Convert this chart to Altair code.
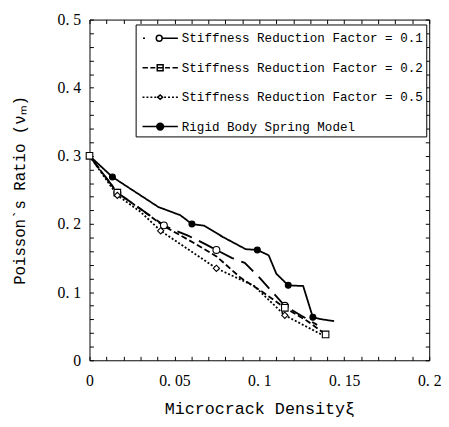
import altair as alt
import pandas as pd

series_names = [
    "Stiffness Reduction Factor = 0.1",
    "Stiffness Reduction Factor = 0.2",
    "Stiffness Reduction Factor = 0.5",
    "Rigid Body Spring Model",
]

# Stiffness reduction factor 0.1 (long dash, open circles)
srf01_x = [0.0, 0.0164, 0.0438, 0.050, 0.058, 0.067, 0.0747, 0.084, 0.0914, 0.1006, 0.107, 0.115, 0.123, 0.134]
srf01_y = [0.300, 0.246, 0.198, 0.191, 0.183, 0.172, 0.162, 0.150, 0.143, 0.120, 0.102, 0.080, 0.068, 0.052]
srf01_mk = [0, 1, 1, 0, 0, 0, 1, 0, 0, 0, 0, 1, 0, 0]

# Stiffness reduction factor 0.2 (dashed, open squares)
srf02_x = [0.0, 0.0164, 0.030, 0.0438, 0.063, 0.075, 0.089, 0.1015, 0.115, 0.128, 0.139]
srf02_y = [0.300, 0.246, 0.222, 0.197, 0.170, 0.152, 0.121, 0.101, 0.077, 0.058, 0.038]
srf02_mk = [1, 1, 0, 0, 0, 0, 0, 0, 1, 0, 1]

# Stiffness reduction factor 0.5 (dotted, small diamonds)
srf05_x = [0.0, 0.0164, 0.030, 0.0419, 0.0747, 0.097, 0.115, 0.138]
srf05_y = [0.300, 0.242, 0.218, 0.190, 0.135, 0.109, 0.066, 0.036]
srf05_mk = [0, 1, 0, 1, 1, 0, 1, 0]

# Rigid body spring model (solid, filled circles)
rbsm_x = [0.0, 0.0135, 0.0405, 0.0534, 0.0603, 0.0675, 0.0785, 0.092, 0.0988, 0.1055, 0.110, 0.117, 0.1258, 0.1315, 0.137, 0.144]
rbsm_y = [0.300, 0.269, 0.225, 0.213, 0.200, 0.1975, 0.181, 0.163, 0.162, 0.154, 0.127, 0.110, 0.109, 0.063, 0.060, 0.0575]
rbsm_mk = [0, 1, 0, 0, 1, 0, 0, 0, 1, 0, 0, 1, 0, 1, 0, 0]

x_ticks = [i / 100 for i in range(0, 21)]   # labelled every 0.05
y_ticks = [i / 50 for i in range(0, 26)]    # labelled every 0.1

rows = []
for name, xs, ys, mks in zip(
    series_names,
    [srf01_x, srf02_x, srf05_x, rbsm_x],
    [srf01_y, srf02_y, srf05_y, rbsm_y],
    [srf01_mk, srf02_mk, srf05_mk, rbsm_mk],
):
    for i, (x, y, m) in enumerate(zip(xs, ys, mks)):
        rows.append({"series": name, "x": x, "y": y, "marker": m, "order": i})
df = pd.DataFrame(rows)

W, H = 346, 347
TICK = 4
x_scale = alt.Scale(domain=[0, 0.2], nice=False, zero=False)
y_scale = alt.Scale(domain=[0, 0.5], nice=False, zero=False)

dash_range = [[16, 8], [6, 3], [2, 2], [1, 0]]
width_range = [1.9, 1.8, 1.5, 1.8]
shape_range = ["circle", "square", "diamond", "circle"]
size_range = [49, 36, 28, 64]
fill_range = ["white", "white", "white", "black"]
color_range = ["black", "black", "black", "black"]

# legend symbols: line segment + marker, unit = 10px, symbol centre at x=0
legend_paths = [
    "M-0.65,0H-0.45 M1.3,0A0.3,0.3 0 1,1 0.7,0A0.3,0.3 0 1,1 1.3,0Z M1.3,0H2.9",
    "M-0.7,0H-0.15 M0.1,0H0.6 M0.8,-0.3H1.4V0.3H0.8Z M0.8,0H1.4 M1.6,0H2.1 M2.35,0H2.9",
    "M-0.7,0H-0.5 M-0.3,0H-0.1 M0.1,0H0.3 M0.5,0H0.7 M0.85,0L1.1,-0.22L1.35,0L1.1,0.22Z "
    "M1.5,0H1.7 M1.9,0H2.1 M2.3,0H2.5 M2.7,0H2.9",
    "M-0.7,0H2.9 M1.45,0A0.35,0.35 0 1,1 0.75,0A0.35,0.35 0 1,1 1.45,0Z "
    "M1.3,0A0.2,0.2 0 1,1 0.9,0A0.2,0.2 0 1,1 1.3,0Z "
    "M1.15,0A0.05,0.05 0 1,1 1.05,0A0.05,0.05 0 1,1 1.15,0Z",
]

TICK_FONT = "Liberation Serif"
TITLE_FONT = "Liberation Mono"


def lab(k):
    return (
        f"abs(datum.value*{k} - round(datum.value*{k})) < 1e-6 ? "
        "replace(format(datum.value, '~g'), '.', '. ') : ''"
    )


x_axis = alt.Axis(
    values=x_ticks, tickCount=len(x_ticks) + 10, labelExpr=lab(20), ticks=False, domain=False,
    grid=True, gridColor="black", gridOpacity=1, gridWidth=1, gridDash=[TICK, H - 2 * TICK],
    labelFont=TICK_FONT, labelFontSize=16, labelColor="black", labelPadding=13,
    labelFlush=False, labelOverlap=False,
    title="Microcrack Densityξ", titleFont=TITLE_FONT, titleFontSize=17,
    titleFontWeight="normal", titleColor="black", titlePadding=12,
)
y_axis = alt.Axis(
    values=y_ticks, tickCount=len(y_ticks) + 10, labelExpr=lab(10), ticks=False, domain=False,
    grid=True, gridColor="black", gridOpacity=1, gridWidth=1, gridDash=[TICK, W - 2 * TICK],
    labelFont=TICK_FONT, labelFontSize=16, labelColor="black", labelPadding=9,
    labelOverlap=False,
    title="Poisson`s Ratio (νₘ)", titleFont=TITLE_FONT, titleFontSize=16,
    titleFontWeight="normal", titleColor="black", titlePadding=30,
)

lines = alt.Chart(df).mark_line(color="black").encode(
    x=alt.X("x:Q", scale=x_scale, axis=x_axis),
    y=alt.Y("y:Q", scale=y_scale, axis=y_axis),
    strokeDash=alt.StrokeDash("series:N", scale=alt.Scale(domain=series_names, range=dash_range), legend=None),
    strokeWidth=alt.StrokeWidth("series:N", scale=alt.Scale(domain=series_names, range=width_range), legend=None),
    detail="series:N",
    order="order:Q",
)

markers = alt.Chart(df).transform_filter("datum.marker == 1").mark_point(
    filled=False, opacity=1, stroke="black", strokeWidth=1.1
).encode(
    x=alt.X("x:Q", scale=x_scale),
    y=alt.Y("y:Q", scale=y_scale),
    shape=alt.Shape("series:N", scale=alt.Scale(domain=series_names, range=shape_range), legend=None),
    size=alt.Size("series:N", scale=alt.Scale(domain=series_names, range=size_range), legend=None),
    fill=alt.Fill("series:N", scale=alt.Scale(domain=series_names, range=fill_range), legend=None),
)

legend = alt.Legend(
    title=None, orient="none", legendX=47, legendY=5, padding=3, rowPadding=12,
    symbolSize=400, symbolStrokeWidth=1.5, symbolOpacity=1,
    labelFont=TITLE_FONT, labelFontSize=12.8, labelColor="black", labelOffset=22,
    labelLimit=400, strokeColor="black", fillColor="white",
)

legend_layer = alt.Chart(df).transform_filter("datum.x < -1").mark_point(
    filled=False, opacity=1, strokeWidth=1.5
).encode(
    x=alt.X("x:Q", scale=x_scale),
    y=alt.Y("y:Q", scale=y_scale),
    shape=alt.Shape("series:N", scale=alt.Scale(domain=series_names, range=legend_paths), legend=legend),
    color=alt.Color("series:N", scale=alt.Scale(domain=series_names, range=color_range), legend=legend),
)

chart = (
    alt.layer(lines, markers, legend_layer)
    .resolve_scale(shape="independent", fill="independent", strokeDash="independent",
                   size="independent", color="independent")
    .properties(
        width=W, height=H,
        autosize=alt.AutoSizeParams(type="none"),
        padding={"left": 83, "top": 8, "right": 12, "bottom": 56},
        background="white",
    )
    .configure_view(stroke="black", strokeWidth=1)
)

chart.save("out.html", embed_options={"renderer": "svg", "actions": False})
